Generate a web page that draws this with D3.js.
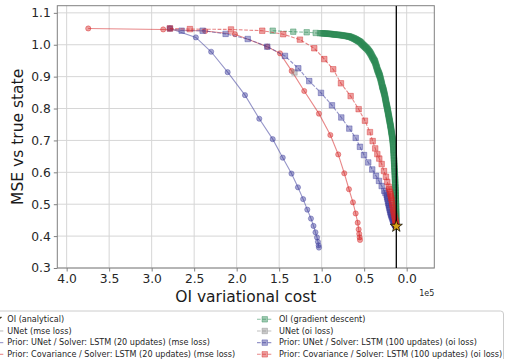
<!DOCTYPE html>
<html><head><meta charset="utf-8">
<script src="https://cdn.jsdelivr.net/npm/d3@7"></script>
<style>body{margin:0;background:#fff;}svg{display:block;font-family:"DejaVu Sans",sans-serif;}</style>
</head><body><svg id="c" width="506" height="359"></svg>
<script>
// ---------------- DATA (cost in units of 1e5, MSE) ----------------
const xTicks = [4.0, 3.5, 3.0, 2.5, 2.0, 1.5, 1.0, 0.5, 0.0];
const yTicks = [0.3, 0.4, 0.5, 0.6, 0.7, 0.8, 0.9, 1.0, 1.1];
const xLabel = "OI variational cost";
const yLabel = "MSE vs true state";
const offsetText = "1e5";

const oiAnalytical = [[0.122, 0.431]];
const oiGradient = [[1.576,1.044],[1.334,1.041],[1.176,1.039],[1.07,1.037],[1.02,1.036],
 [1.0,1.036],[0.988,1.0358],[0.975,1.0355],[0.962,1.0352],[0.95,1.035],[0.938,1.0348],[0.925,1.0345],[0.912,1.0342],[0.9,1.034],
 [0.888,1.0335],[0.875,1.033],[0.862,1.0325],[0.85,1.032],[0.838,1.0318],[0.825,1.0315],[0.812,1.0312],[0.8,1.031],[0.788,1.0305],
 [0.775,1.03],[0.762,1.0295],[0.75,1.029],[0.738,1.0285],[0.725,1.028],[0.712,1.0275],[0.7,1.027],[0.692,1.0265],[0.683,1.026],
 [0.675,1.0255],[0.667,1.025],[0.657,1.024],[0.648,1.023],[0.639,1.022],[0.63,1.021],[0.622,1.02],[0.615,1.019],[0.607,1.018],
 [0.6,1.017],[0.594,1.016],[0.588,1.015],[0.581,1.014],[0.575,1.013],[0.568,1.012],[0.562,1.011],[0.555,1.01],[0.549,1.009],
 [0.543,1.0075],[0.537,1.006],[0.531,1.004],[0.525,1.002],[0.518,1.0005],[0.512,0.999],[0.506,0.9975],[0.5,0.996],[0.494,0.9945],
 [0.488,0.993],[0.482,0.9915],[0.476,0.99],[0.47,0.9885],[0.464,0.987],[0.458,0.985],[0.452,0.983],[0.446,0.981],[0.441,0.979],
 [0.435,0.977],[0.43,0.975],[0.425,0.9725],[0.42,0.97],[0.415,0.9675],[0.41,0.965],[0.405,0.9625],[0.4,0.96],[0.395,0.9575],
 [0.39,0.955],[0.385,0.953],[0.381,0.951],[0.377,0.949],[0.373,0.947],[0.369,0.9435],[0.365,0.94],[0.361,0.9365],[0.357,0.933],
 [0.353,0.93],[0.35,0.927],[0.346,0.9235],[0.342,0.92],[0.338,0.9175],[0.334,0.915],[0.33,0.9125],[0.327,0.91],[0.323,0.9075],
 [0.32,0.905],[0.317,0.9025],[0.314,0.9],[0.31,0.8965],[0.307,0.893],[0.303,0.889],[0.3,0.885],[0.296,0.8815],[0.293,0.878],
 [0.29,0.874],[0.287,0.87],[0.284,0.8675],[0.281,0.865],[0.278,0.8625],[0.275,0.86],[0.272,0.857],[0.27,0.854],[0.267,0.851],
 [0.264,0.848],[0.261,0.8445],[0.258,0.841],[0.255,0.8375],[0.253,0.834],[0.25,0.8305],[0.248,0.827],[0.245,0.8235],[0.243,0.82],
 [0.24,0.8165],[0.238,0.813],[0.235,0.81],[0.233,0.807],[0.23,0.804],[0.228,0.801],[0.226,0.798],[0.224,0.795],[0.221,0.7915],
 [0.219,0.788],[0.217,0.785],[0.215,0.782],[0.212,0.7785],[0.21,0.775],[0.208,0.772],[0.206,0.769],[0.203,0.7655],[0.201,0.762],
 [0.199,0.759],[0.197,0.756],[0.194,0.7525],[0.192,0.749],[0.19,0.746],[0.188,0.743],[0.186,0.7395],[0.184,0.736],[0.182,0.7325],
 [0.18,0.729],[0.178,0.7255],[0.176,0.722],[0.174,0.7185],[0.172,0.715],[0.17,0.7115],[0.168,0.708],[0.166,0.7045],[0.165,0.701],
 [0.163,0.6965],[0.162,0.692],[0.16,0.688],[0.159,0.684],[0.157,0.679],[0.156,0.674],[0.155,0.6695],[0.154,0.665],[0.153,0.66],
 [0.152,0.655],[0.151,0.65],[0.15,0.645],[0.149,0.64],[0.148,0.635],[0.147,0.63],[0.146,0.625],[0.145,0.62],[0.144,0.615],
 [0.143,0.61],[0.142,0.605],[0.141,0.6],[0.14,0.595],[0.139,0.59],[0.138,0.585],[0.137,0.58],[0.136,0.575],[0.1355,0.57],
 [0.135,0.565],[0.134,0.56],[0.133,0.555],[0.1325,0.55],[0.132,0.545],[0.131,0.54],[0.13,0.535],[0.1295,0.53],[0.129,0.525],
 [0.1285,0.52],[0.128,0.515],[0.1275,0.51],[0.127,0.505],[0.1265,0.5],[0.126,0.495],[0.1255,0.49],[0.125,0.485],[0.1245,0.48],
 [0.124,0.476],[0.124,0.472],[0.124,0.468],[0.1235,0.464],[0.123,0.46],[0.123,0.456],[0.123,0.452],[0.1225,0.449],[0.122,0.446],
 [0.122,0.443],[0.122,0.44]];
const unetOi = [[1.32, 0.913]];
const priorUnet20Mse = [[2.785,1.051],[2.48,1.023],[2.30,0.978],[2.106,0.914],[1.902,0.842],[1.734,0.768],[1.576,0.704],
 [1.458,0.646],[1.355,0.596],[1.279,0.553],[1.218,0.516],[1.169,0.483],[1.126,0.455],[1.096,0.432],[1.073,0.412],
 [1.055,0.396],[1.044,0.382],[1.036,0.371],[1.032,0.364]];
const priorCov20Mse = [[3.746,1.051],[2.864,1.048],[2.37,1.043],[2.02,1.033],[1.64,0.994],[1.49,0.973],[1.353,0.918],
 [1.205,0.855],[1.032,0.784],[0.898,0.717],[0.805,0.656],[0.734,0.597],[0.679,0.547],[0.632,0.506],[0.6,0.471],
 [0.576,0.442],[0.565,0.421],[0.558,0.407],[0.553,0.396],[0.549,0.388]];
const priorUnet100Oi = [[2.785,1.051],[2.647,1.044],[2.4,1.044],[2.13,1.034],[1.87,1.018],[1.64,0.994],[1.432,0.965],
 [1.275,0.926],[1.146,0.886],[1.008,0.849],[0.879,0.81],[0.769,0.772],[0.675,0.737],[0.6,0.708],[0.55,0.68],[0.502,0.654],
 [0.452,0.631],[0.405,0.609],[0.361,0.589],[0.326,0.573],[0.294,0.557],[0.264,0.542],[0.25,0.535],[0.235,0.528],[0.23,0.522],
 [0.226,0.517],[0.221,0.51],[0.216,0.503],[0.211,0.498],[0.207,0.493],[0.202,0.487],[0.198,0.482],[0.193,0.476],[0.188,0.471],
 [0.183,0.467],[0.178,0.463],[0.173,0.459],[0.168,0.455],[0.163,0.451],[0.158,0.448],[0.153,0.445],[0.149,0.442],[0.145,0.44],
 [0.141,0.438],[0.137,0.436],[0.134,0.435],[0.131,0.434],[0.128,0.433],[0.126,0.432],[0.124,0.431]];
const priorCov100Oi = [[2.785,1.051],[2.55,1.049],[2.067,1.048],[1.699,1.044],[1.452,1.033],[1.256,1.016],[1.087,0.989],
 [0.969,0.955],[0.864,0.923],[0.773,0.879],[0.659,0.839],[0.565,0.798],[0.491,0.762],[0.432,0.726],[0.40,0.698],
 [0.37,0.675],[0.345,0.657],[0.322,0.643],[0.294,0.626],[0.267,0.604],[0.244,0.586],[0.228,0.57],[0.212,0.555],[0.204,0.547],
 [0.196,0.539],[0.191,0.532],[0.186,0.526],[0.181,0.519],[0.176,0.513],[0.171,0.505],[0.167,0.497],[0.162,0.489],[0.158,0.482],
 [0.153,0.475],[0.148,0.469],[0.143,0.462],[0.138,0.456],[0.134,0.451],[0.131,0.446],[0.128,0.442],[0.126,0.438],[0.124,0.435],
 [0.123,0.433]];

const seriesNames = ["OI (analytical)","UNet (mse loss)","Prior: UNet / Solver: LSTM (20 updates) (mse loss)",
 "Prior: Covariance / Solver: LSTM (20 updates) (mse loss)","OI (gradient descent)","UNet (oi loss)",
 "Prior: UNet / Solver: LSTM (100 updates) (oi loss)","Prior: Covariance / Solver: LSTM (100 updates) (oi loss)"];

// ---------------- STYLE ----------------
const GREEN="#2e8b57", RED="#d62728", PURPLE="#3f3f9c", GRAY="#8a8a8a";
const series = [
 {name:seriesNames[1], data:[], color:GRAY, dash:null, marker:"circle"},
 {name:seriesNames[2], data:priorUnet20Mse, color:PURPLE, dash:null, marker:"circle"},
 {name:seriesNames[3], data:priorCov20Mse, color:RED, dash:null, marker:"circle"},
 {name:seriesNames[4], data:oiGradient, color:GREEN, dash:"3.7,1.6", marker:"square"},
 {name:seriesNames[5], data:unetOi, color:GRAY, dash:"3.7,1.6", marker:"square"},
 {name:seriesNames[6], data:priorUnet100Oi, color:PURPLE, dash:"3.7,1.6", marker:"square"},
 {name:seriesNames[7], data:priorCov100Oi, color:RED, dash:"3.7,1.6", marker:"square"}
];

const svg = d3.select("#c");
const L=57.3, R=434.3, T=5.7, B=268;
const x = d3.scaleLinear().domain([4.11,-0.325]).range([L,R]);
const y = d3.scaleLinear().domain([0.3,1.1224]).range([B,T]);

svg.append("defs").append("clipPath").attr("id","clip").append("rect")
  .attr("x",L).attr("y",T).attr("width",R-L).attr("height",B-T);

// grid
const grid = svg.append("g");
grid.selectAll(".gx").data(xTicks).join("line").attr("x1",d=>x(d)).attr("x2",d=>x(d)).attr("y1",T).attr("y2",B)
  .attr("stroke","#d6d6d6").attr("stroke-width",1);
grid.selectAll(".gy").data(yTicks).join("line").attr("y1",d=>y(d)).attr("y2",d=>y(d)).attr("x1",L).attr("x2",R)
  .attr("stroke","#d6d6d6").attr("stroke-width",1);

// axes
const xAxis = svg.append("g").attr("transform",`translate(0,${B})`)
  .call(d3.axisBottom(x).tickValues(xTicks).tickFormat(d3.format(".1f")).tickSizeOuter(0).tickSize(3.5).tickPadding(3));
const yAxis = svg.append("g").attr("transform",`translate(${L},0)`)
  .call(d3.axisLeft(y).tickValues(yTicks).tickFormat(d3.format(".1f")).tickSizeOuter(0).tickSize(3.5).tickPadding(3));
[xAxis,yAxis].forEach(a=>{
  a.select(".domain").remove();
  a.selectAll("line").attr("stroke","#808080");
  a.selectAll("text").attr("fill","#262626").attr("font-size",12.3).attr("font-family","DejaVu Sans");
});
svg.append("rect").attr("x",L).attr("y",T).attr("width",R-L).attr("height",B-T)
  .attr("fill","none").attr("stroke","#808080").attr("stroke-width",1);

svg.append("text").attr("x",(L+R)/2).attr("y",301.5).attr("text-anchor","middle")
  .attr("font-size",15.5).attr("fill","#1a1a1a").text(xLabel);
svg.append("text").attr("transform",`translate(23,${(T+B)/2}) rotate(-90)`).attr("text-anchor","middle")
  .attr("font-size",15.5).attr("fill","#1a1a1a").text(yLabel);
svg.append("text").attr("x",R).attr("y",296).attr("text-anchor","end").attr("font-size",8).attr("fill","#262626").text(offsetText);

// plot
const plot = svg.append("g").attr("clip-path","url(#clip)");
const line = d3.line().x(d=>x(d[0])).y(d=>y(d[1]));
const sq = d3.symbol().type(d3.symbolSquare).size(30);
function drawSeries(s){
  const g = plot.append("g");
  if(s.data.length>1){
    g.append("path").attr("d",line(s.data)).attr("fill","none").attr("stroke",s.color)
      .attr("stroke-opacity",0.55).attr("stroke-width",1.1).attr("stroke-dasharray",s.dash);
  }
  if(s.marker==="circle"){
    g.selectAll("circle").data(s.data).join("circle").attr("cx",d=>x(d[0])).attr("cy",d=>y(d[1])).attr("r",2.6)
      .attr("fill",s.color).attr("fill-opacity",0.45).attr("stroke",s.color).attr("stroke-opacity",0.45).attr("stroke-width",0.9);
  } else {
    g.selectAll("path.m").data(s.data).join("path").attr("class","m").attr("d",sq)
      .attr("transform",d=>`translate(${x(d[0])},${y(d[1])})`)
      .attr("fill",s.color).attr("fill-opacity",0.45).attr("stroke",s.color).attr("stroke-opacity",0.45).attr("stroke-width",0.9);
  }
}
series.forEach(drawSeries);

// OI analytical: vertical line and star
plot.append("line").attr("x1",x(oiAnalytical[0][0])).attr("x2",x(oiAnalytical[0][0])).attr("y1",T).attr("y2",B)
  .attr("stroke","#000").attr("stroke-width",1.3);
const star = d3.symbol().type(d3.symbolStar).size(46);
plot.selectAll("path.star").data(oiAnalytical).join("path").attr("class","star").attr("d",star)
  .attr("transform",d=>`translate(${x(d[0])},${y(d[1])})`).attr("fill","#d4a017").attr("stroke","#000").attr("stroke-width",0.7);

// legend
const lg = svg.append("g");
lg.append("rect").attr("x",-30).attr("y",311).attr("width",533.5).attr("height",60).attr("rx",3)
  .attr("fill","#fff").attr("fill-opacity",0.8).attr("stroke","#cccccc").attr("stroke-width",1);
const legendItems = [
 {name:seriesNames[0], color:"#d4a017", dash:null, marker:"star", noline:true},
 ...series
];
legendItems.forEach((s,i)=>{
  const col = i<4?0:1, row = i%4;
  const cy = 319.3 + row*11.67;
  const hx1 = col===0 ? -12.4 : 257, hx2 = col===0 ? 3.3 : 272.5, tx = col===0 ? 7.3 : 279;
  const mx = (hx1+hx2)/2;
  if(!s.noline){
    lg.append("line").attr("x1",hx1).attr("x2",hx2).attr("y1",cy).attr("y2",cy).attr("stroke",s.color)
      .attr("stroke-opacity",0.55).attr("stroke-width",1.1).attr("stroke-dasharray",s.dash);
  }
  if(s.marker==="star"){
    lg.append("path").attr("d",star).attr("transform",`translate(${mx},${cy})`).attr("fill",s.color).attr("stroke","#000").attr("stroke-width",0.7);
  } else if(s.marker==="circle"){
    lg.append("circle").attr("cx",mx).attr("cy",cy).attr("r",2.6).attr("fill",s.color).attr("fill-opacity",0.45)
      .attr("stroke",s.color).attr("stroke-opacity",0.45).attr("stroke-width",0.9);
  } else {
    lg.append("path").attr("d",sq).attr("transform",`translate(${mx},${cy})`).attr("fill",s.color).attr("fill-opacity",0.45)
      .attr("stroke",s.color).attr("stroke-opacity",0.45).attr("stroke-width",0.9);
  }
  lg.append("text").attr("x",tx).attr("y",cy).attr("dy","0.35em").attr("font-size",8.1).attr("fill","#262626").text(s.name);
});
</script></body></html>
